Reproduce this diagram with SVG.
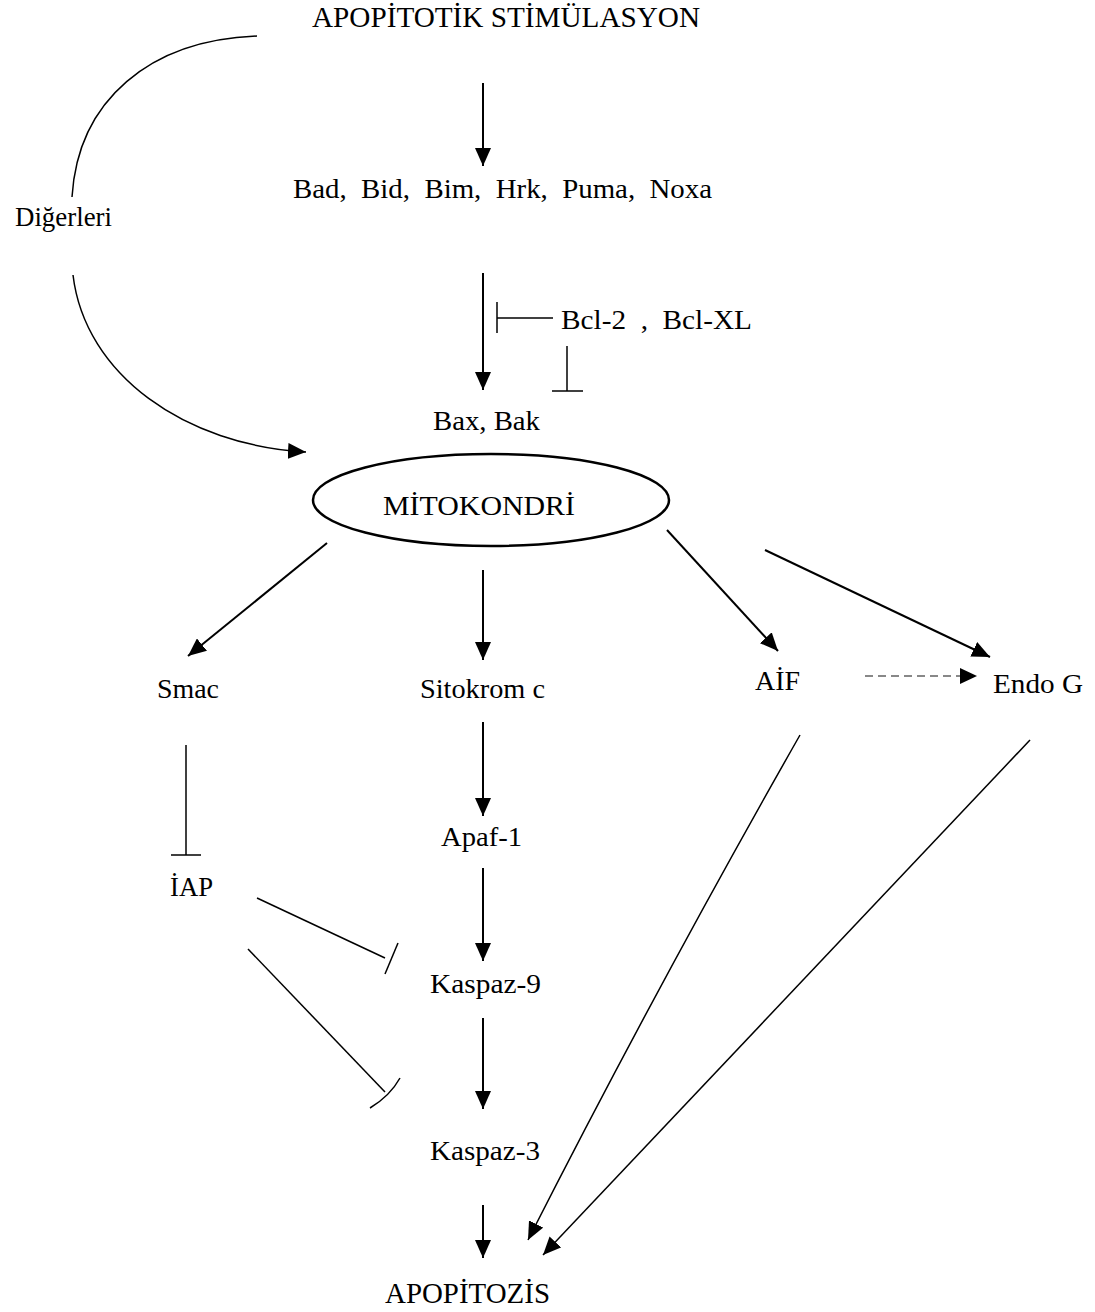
<svg xmlns="http://www.w3.org/2000/svg" width="1095" height="1312" viewBox="0 0 1095 1312">
<defs>
<marker id="ah" markerUnits="userSpaceOnUse" markerWidth="20" markerHeight="16" refX="18" refY="8" orient="auto">
<path d="M0,0 L18,8 L0,16 z" fill="#000"/>
</marker>
</defs>
<style>
text{font-family:"Liberation Serif","Times New Roman",serif;fill:#000;white-space:pre;}
.lbl{font-size:28px;}
.ttl{font-size:30px;}
.c{fill:none;stroke:#000;stroke-width:2;}
.t{fill:none;stroke:#000;stroke-width:1.5;}
</style>
<rect width="1095" height="1312" fill="#fff"/>
<g id="connectors">
<line class="c" x1="483" y1="83" x2="483" y2="166" marker-end="url(#ah)"/>
<line class="c" x1="483" y1="273" x2="483" y2="390" marker-end="url(#ah)"/>
<path class="t" d="M257,36 C150,40 78,100 72,197"/>
<path class="t" d="M73,275 C85,375 185,445 306,452" marker-end="url(#ah)"/>
<line class="t" x1="497" y1="302" x2="497" y2="333"/>
<line class="t" x1="497" y1="318" x2="553" y2="318"/>
<line class="t" x1="567" y1="346" x2="567" y2="391"/>
<line class="t" x1="552" y1="391" x2="583" y2="391"/>
<line class="c" x1="327" y1="543" x2="188" y2="656" marker-end="url(#ah)"/>
<line class="c" x1="483" y1="570" x2="483" y2="660" marker-end="url(#ah)"/>
<line class="c" x1="667" y1="530" x2="778" y2="651" marker-end="url(#ah)"/>
<line class="c" x1="765" y1="550" x2="990" y2="657" marker-end="url(#ah)"/>
<line x1="865" y1="676" x2="962" y2="676" stroke="#888" stroke-width="2" stroke-dasharray="8,5"/>
<path d="M960,668 L977,676 L960,684 z" fill="#000"/>
<line class="t" x1="186" y1="745" x2="186" y2="855"/>
<line class="t" x1="171" y1="855" x2="201" y2="855"/>
<line class="c" x1="483" y1="722" x2="483" y2="816" marker-end="url(#ah)"/>
<line class="c" x1="483" y1="868" x2="483" y2="961" marker-end="url(#ah)"/>
<line class="t" x1="257" y1="898" x2="385" y2="958"/>
<line class="t" x1="398" y1="943" x2="385" y2="974"/>
<line class="c" x1="483" y1="1018" x2="483" y2="1109" marker-end="url(#ah)"/>
<line class="t" x1="248" y1="949" x2="385" y2="1092"/>
<path class="t" d="M400,1078 Q390,1096 370,1108"/>
<line class="c" x1="483" y1="1205" x2="483" y2="1258" marker-end="url(#ah)"/>
<path class="t" d="M800,735 Q655,990 528,1240" marker-end="url(#ah)"/>
<line class="t" x1="1030" y1="740" x2="543" y2="1255" marker-end="url(#ah)"/>
</g>
<g id="n-stim"><text class="ttl" x="312" y="27" textLength="388" lengthAdjust="spacingAndGlyphs">APOPİTOTİK STİMÜLASYON</text></g>
<g id="n-bh3"><text class="lbl" x="293" y="198" textLength="419" lengthAdjust="spacingAndGlyphs">Bad,  Bid,  Bim,  Hrk,  Puma,  Noxa</text></g>
<g id="n-diger"><text class="lbl" x="15" y="226" textLength="97" lengthAdjust="spacingAndGlyphs">Diğerleri</text></g>
<g id="n-bcl"><text class="lbl" x="561" y="329" textLength="191" lengthAdjust="spacingAndGlyphs">Bcl-2  ,  Bcl-XL</text></g>
<g id="n-baxbak"><text class="lbl" x="433" y="430" textLength="107" lengthAdjust="spacingAndGlyphs">Bax, Bak</text></g>
<g id="n-mito">
<ellipse cx="491" cy="500" rx="178" ry="46" fill="none" stroke="#000" stroke-width="2.5"/>
<text class="lbl" x="383" y="515" textLength="192" lengthAdjust="spacingAndGlyphs">MİTOKONDRİ</text>
</g>
<g id="n-smac"><text class="lbl" x="157" y="698" textLength="62" lengthAdjust="spacingAndGlyphs">Smac</text></g>
<g id="n-sito"><text class="lbl" x="420" y="698" textLength="125" lengthAdjust="spacingAndGlyphs">Sitokrom c</text></g>
<g id="n-aif"><text class="lbl" x="755" y="690" textLength="45" lengthAdjust="spacingAndGlyphs">AİF</text></g>
<g id="n-endo"><text class="lbl" x="993" y="693" textLength="90" lengthAdjust="spacingAndGlyphs">Endo G</text></g>
<g id="n-iap"><text class="lbl" x="170" y="896" textLength="43" lengthAdjust="spacingAndGlyphs">İAP</text></g>
<g id="n-apaf"><text class="lbl" x="441" y="846" textLength="81" lengthAdjust="spacingAndGlyphs">Apaf-1</text></g>
<g id="n-k9"><text class="lbl" x="430" y="993" textLength="111" lengthAdjust="spacingAndGlyphs">Kaspaz-9</text></g>
<g id="n-k3"><text class="lbl" x="430" y="1160" textLength="110" lengthAdjust="spacingAndGlyphs">Kaspaz-3</text></g>
<g id="n-apop"><text class="ttl" x="385" y="1303" textLength="165" lengthAdjust="spacingAndGlyphs">APOPİTOZİS</text></g>
</svg>
